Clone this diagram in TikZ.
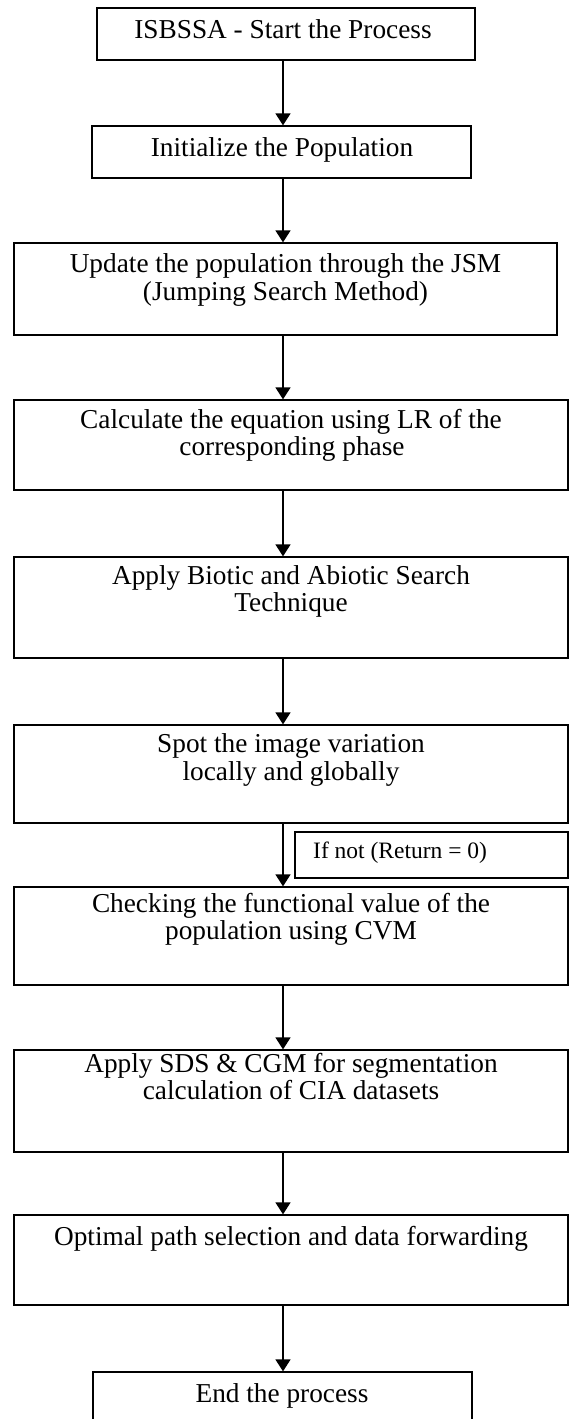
\documentclass[tikz,border=0pt]{standalone}
\usepackage{fontspec}
\setmainfont{Liberation Serif}
\usetikzlibrary{arrows.meta}
\begin{document}
\begin{tikzpicture}[x=1pt,y=-1pt,
  box/.style={draw=black, line width=1.3pt, inner sep=0pt, fill=white},
  txt/.style={font=\fontsize{27.3}{28}\selectfont, inner sep=0pt, anchor=base, text=black},
  smalltxt/.style={font=\fontsize{23.5}{24}\selectfont, inner sep=0pt, anchor=base west, text=black},
  arr/.style={line width=1.5pt, -{Triangle[width=15pt,length=12pt]}}]
\useasboundingbox (0,0) rectangle (569,1419);
\clip (0,0) rectangle (569,1419);
\fill[white] (0,0) rectangle (569,1419);
% boxes
\node[box, minimum width=378pt, minimum height=52pt] (b1) at (286,34) {};
\node[box, minimum width=379pt, minimum height=52pt] (b2) at (281.5,152) {};
\node[box, minimum width=543pt, minimum height=92pt] (b3) at (285.5,289) {};
\node[box, minimum width=554pt, minimum height=90pt] (b4) at (291,445) {};
\node[box, minimum width=554pt, minimum height=101pt] (b5) at (291,607.5) {};
\node[box, minimum width=554pt, minimum height=98pt] (b6) at (291,774) {};
\node[box, minimum width=273pt, minimum height=46pt] (cond) at (431.5,855) {};
\node[box, minimum width=554pt, minimum height=98pt] (b7) at (291,936) {};
\node[box, minimum width=554pt, minimum height=102pt] (b8) at (291,1101) {};
\node[box, minimum width=554pt, minimum height=90pt] (b9) at (291,1260) {};
\node[box, minimum width=379pt, minimum height=78pt] (b10) at (282.5,1411) {};
% texts
\node[txt] (t1) at (283,38) {ISBSSA - Start the Process};
\node[txt] (t2) at (282,156) {Initialize the Population};
\node[txt] (t3a) at (285.5,272) {Update the population through the JSM};
\node[txt] (t3b) at (285.5,300) {(Jumping Search Method)};
\node[txt] (t4a) at (291,428) {Calculate the equation using LR of the};
\node[txt] (t4b) at (292,455) {corresponding phase};
\node[txt] (t5a) at (291,584) {Apply Biotic and Abiotic Search};
\node[txt] (t5b) at (291,611) {Technique};
\node[txt] (t6a) at (291,752) {Spot the image variation};
\node[txt] (t6b) at (291,780) {locally and globally};
\node[smalltxt] (tc) at (313,858) {If not (Return = 0)};
\node[txt] (t7a) at (291,912) {Checking the functional value of the};
\node[txt] (t7b) at (291,939) {population using CVM};
\node[txt] (t8a) at (291,1072) {Apply SDS \& CGM for segmentation};
\node[txt] (t8b) at (291,1099) {calculation of CIA datasets};
\node[txt] (t9) at (291,1245) {Optimal path selection and data forwarding};
\node[txt] (t10) at (282,1402) {End the process};
% arrows
\coordinate (ax) at (283,0);
\draw[arr] (b1.south -| ax) -- (b2.north -| ax);
\draw[arr] (b2.south -| ax) -- (b3.north -| ax);
\draw[arr] (b3.south -| ax) -- (b4.north -| ax);
\draw[arr] (b4.south -| ax) -- (b5.north -| ax);
\draw[arr] (b5.south -| ax) -- (b6.north -| ax);
\draw[arr] (b6.south -| ax) -- (b7.north -| ax);
\draw[arr] (b7.south -| ax) -- (b8.north -| ax);
\draw[arr] (b8.south -| ax) -- (b9.north -| ax);
\draw[arr] (b9.south -| ax) -- (b10.north -| ax);
\end{tikzpicture}
\end{document}
